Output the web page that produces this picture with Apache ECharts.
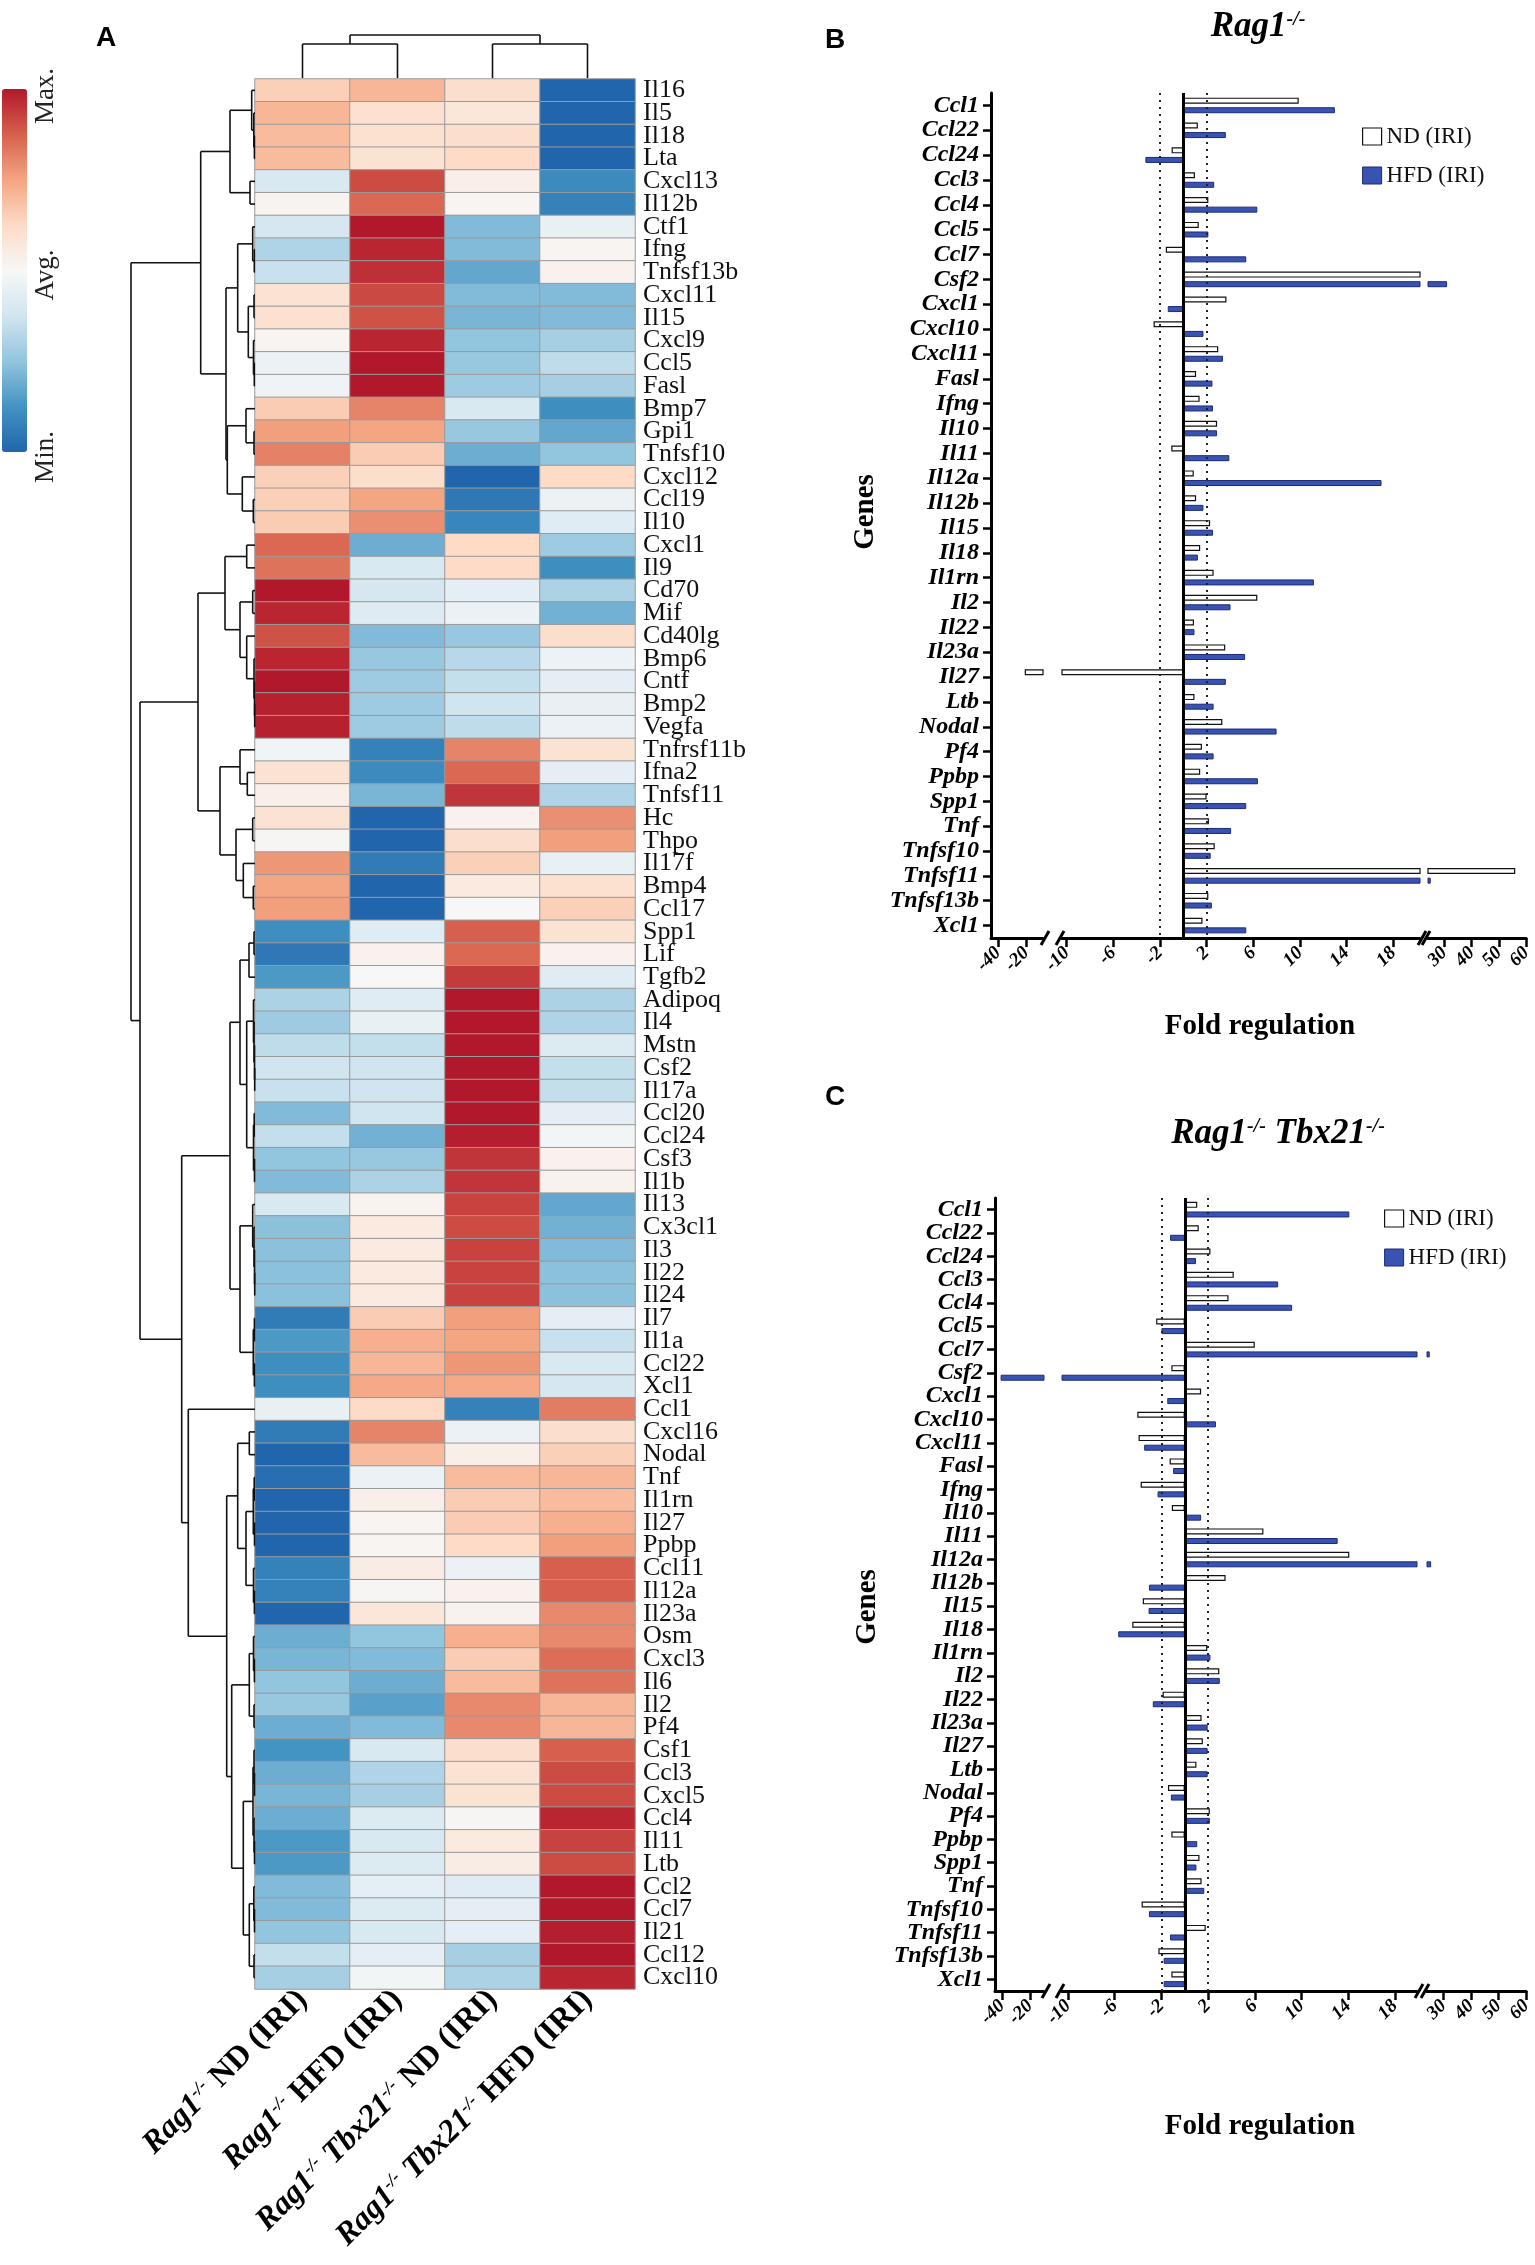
<!DOCTYPE html>
<html>
<head>
<meta charset="utf-8">
<script src="https://cdn.jsdelivr.net/npm/echarts@6/dist/echarts.min.js"></script>
<style>
  html, body { margin: 0; padding: 0; background: #fff; }
  #main { width: 1535px; height: 2265px; }
</style>
</head>
<body>
<div id="main"></div>
<script>
var SERIF = '"Liberation Serif", "Times New Roman", serif';
var SANS = '"Liberation Sans", Arial, sans-serif';

// ---------- panel A : heatmap ----------
var heatGenes = ['Il16', 'Il5', 'Il18', 'Lta', 'Cxcl13', 'Il12b', 'Ctf1', 'Ifng', 'Tnfsf13b', 'Cxcl11',
    'Il15', 'Cxcl9', 'Ccl5', 'Fasl', 'Bmp7', 'Gpi1', 'Tnfsf10', 'Cxcl12', 'Ccl19', 'Il10',
    'Cxcl1', 'Il9', 'Cd70', 'Mif', 'Cd40lg', 'Bmp6', 'Cntf', 'Bmp2', 'Vegfa', 'Tnfrsf11b',
    'Ifna2', 'Tnfsf11', 'Hc', 'Thpo', 'Il17f', 'Bmp4', 'Ccl17', 'Spp1', 'Lif', 'Tgfb2',
    'Adipoq', 'Il4', 'Mstn', 'Csf2', 'Il17a', 'Ccl20', 'Ccl24', 'Csf3', 'Il1b', 'Il13',
    'Cx3cl1', 'Il3', 'Il22', 'Il24', 'Il7', 'Il1a', 'Ccl22', 'Xcl1', 'Ccl1', 'Cxcl16',
    'Nodal', 'Tnf', 'Il1rn', 'Il27', 'Ppbp', 'Ccl11', 'Il12a', 'Il23a', 'Osm', 'Cxcl3',
    'Il6', 'Il2', 'Pf4', 'Csf1', 'Ccl3', 'Cxcl5', 'Ccl4', 'Il11', 'Ltb', 'Ccl2',
    'Ccl7', 'Il21', 'Ccl12', 'Cxcl10'];

var heatColumns = ['Rag1-/- ND (IRI)', 'Rag1-/- HFD (IRI)', 'Rag1-/- Tbx21-/- ND (IRI)', 'Rag1-/- Tbx21-/- HFD (IRI)'];

// relative expression, -1 = min, 0 = avg, 1 = max
var ndRag1 = [0.3, 0.42, 0.4, 0.4, -0.2, 0.04, -0.22, -0.38, -0.28, 0.18,
    0.2, 0.03, -0.08, -0.05, 0.32, 0.52, 0.63, 0.3, 0.3, 0.32,
    0.72, 0.68, 1, 0.95, 0.8, 0.95, 1, 0.97, 0.97, -0.04,
    0.18, 0.08, 0.18, 0.02, 0.55, 0.5, 0.52, -0.78, -0.9, -0.72,
    -0.4, -0.45, -0.32, -0.25, -0.28, -0.55, -0.3, -0.5, -0.55, -0.2,
    -0.52, -0.52, -0.52, -0.52, -0.88, -0.72, -0.78, -0.78, -0.1, -0.88,
    -1, -0.95, -1, -1, -1, -0.85, -0.85, -1, -0.62, -0.58,
    -0.5, -0.48, -0.62, -0.75, -0.62, -0.58, -0.62, -0.72, -0.72, -0.55,
    -0.55, -0.5, -0.3, -0.42];
var hfdRag1 = [0.42, 0.2, 0.2, 0.18, 0.82, 0.72, 1, 0.95, 0.92, 0.83,
    0.8, 0.95, 1, 1, 0.62, 0.5, 0.32, 0.22, 0.5, 0.58,
    -0.62, -0.2, -0.22, -0.16, -0.55, -0.48, -0.45, -0.45, -0.45, -0.85,
    -0.8, -0.58, -1, -1, -0.88, -1, -1, -0.15, 0.05, 0,
    -0.15, -0.1, -0.3, -0.25, -0.25, -0.25, -0.6, -0.48, -0.4, 0.04,
    0.12, 0.12, 0.12, 0.12, 0.32, 0.45, 0.42, 0.48, 0.25, 0.62,
    0.4, -0.08, 0.07, 0.03, 0.03, 0.1, 0.02, 0.15, -0.5, -0.55,
    -0.62, -0.68, -0.55, -0.2, -0.38, -0.42, -0.18, -0.2, -0.18, -0.12,
    -0.18, -0.2, -0.12, -0.03];
var ndTbx21 = [0.22, 0.15, 0.22, 0.25, 0.08, 0.03, -0.55, -0.55, -0.65, -0.55,
    -0.58, -0.5, -0.48, -0.45, -0.2, -0.48, -0.62, -1, -0.9, -0.82,
    0.25, 0.25, -0.12, -0.08, -0.48, -0.35, -0.3, -0.25, -0.32, 0.62,
    0.72, 0.9, 0.05, 0.22, 0.3, 0.12, 0, 0.75, 0.72, 0.88,
    1, 1, 1, 1, 1, 1, 0.98, 0.9, 0.9, 0.85,
    0.82, 0.85, 0.85, 0.85, 0.52, 0.5, 0.55, 0.48, -0.85, -0.08,
    0.08, 0.4, 0.32, 0.32, 0.25, -0.08, 0.05, 0.05, 0.45, 0.32,
    0.4, 0.6, 0.6, 0.22, 0.18, 0.18, 0.02, 0.12, 0.1, -0.15,
    -0.12, -0.12, -0.42, -0.4];
var hfdTbx21 = [-1, -1, -1, -1, -0.8, -0.85, -0.1, 0.03, 0.05, -0.55,
    -0.55, -0.42, -0.32, -0.42, -0.78, -0.65, -0.5, 0.25, -0.08, -0.15,
    -0.45, -0.78, -0.4, -0.6, 0.22, -0.07, -0.12, -0.1, -0.08, 0.18,
    -0.12, -0.38, 0.58, 0.52, -0.1, 0.2, 0.3, 0.18, 0.05, -0.15,
    -0.4, -0.38, -0.18, -0.3, -0.3, -0.12, -0.03, 0.05, 0.05, -0.65,
    -0.6, -0.55, -0.52, -0.52, -0.12, -0.28, -0.2, -0.22, 0.65, 0.22,
    0.3, 0.42, 0.4, 0.45, 0.52, 0.75, 0.75, 0.6, 0.6, 0.7,
    0.68, 0.42, 0.42, 0.75, 0.82, 0.82, 0.95, 0.85, 0.82, 1,
    1, 0.98, 1, 0.95];

// dendrograms: [height, left, right], a number is a leaf index
function n(h, a, b) { return [h, a, b]; }
var rowTree = n(124,
    n(54.3,
        n(25, n(3.3, 0, n(1.2, 1, n(0.6, 2, 3))), n(5, 4, 5)),
        n(29,
            n(17.3, n(2.3, 6, n(0.7, 7, 8)), n(6.7, n(1, 9, 10), n(1.5, 11, n(0.7, 12, 13)))),
            n(27.7, n(9, 14, n(1, 15, 16)), n(12.7, 17, n(1.7, 18, 19))))),
    n(115,
        n(57,
            n(30, n(8.3, 20, 21), n(15, n(2.3, 22, 23), n(8.3, 24, n(1, 25, n(0.5, 26, n(0.3, 27, 28)))))),
            n(35, n(15, 29, n(7.7, 30, 31)), n(19, n(2.3, 32, 33), n(11.7, 34, n(1.7, 35, 36))))),
        n(73.3,
            n(25,
                n(15, n(6, n(1, 37, 38), 39),
                    n(8.3, n(1.5, 40, n(1, 41, n(0.5, 42, n(0.3, 43, 44)))), n(1.5, n(0.8, 45, 46), n(0.5, 47, 48)))),
                n(15, n(2.3, 49, n(1, 50, n(0.5, 51, n(0.3, 52, 53)))), n(1.7, n(0.6, 54, 55), n(0.6, 56, 57)))),
            n(66.7, 58,
                n(28.3,
                    n(17.3, n(5.7, 59, 60), n(9, n(1.7, n(0.8, 61, 62), n(0.5, 63, 64)), n(1.5, 65, n(0.6, 66, 67)))),
                    n(23.3,
                        n(5.7, n(1.5, 68, n(0.6, 69, 70)), n(1, 71, 72)),
                        n(11.7, n(2, n(1, 73, n(0.5, 74, 75)), n(1, 76, n(0.5, 77, 78))),
                            n(5.7, n(1.2, 79, n(0.5, 80, 81)), n(1, 82, 83)))))))));
var colTree = n(43, n(34, 0, 1), n(34, 2, 3));

// ---------- panels B and C : fold regulation ----------
var barGenes = ['Ccl1', 'Ccl22', 'Ccl24', 'Ccl3', 'Ccl4', 'Ccl5', 'Ccl7', 'Csf2', 'Cxcl1', 'Cxcl10',
    'Cxcl11', 'Fasl', 'Ifng', 'Il10', 'Il11', 'Il12a', 'Il12b', 'Il15', 'Il18', 'Il1rn',
    'Il2', 'Il22', 'Il23a', 'Il27', 'Ltb', 'Nodal', 'Pf4', 'Ppbp', 'Spp1', 'Tnf',
    'Tnfsf10', 'Tnfsf11', 'Tnfsf13b', 'Xcl1'];
var rag1ND = [9.9, 1.25, -1.0, 1.0, 2.15, 1.33, -1.5, 22, 3.7, -2.55,
    3.0, 1.1, 1.4, 2.9, -1.03, 0.9, 1.1, 2.3, 1.45, 2.6,
    6.35, 0.92, 3.6, -21, 0.96, 3.35, 1.6, 1.45, 2.0, 2.2,
    2.7, 56, 2.15, 1.65];
var rag1HFD = [13.0, 3.65, -3.25, 2.65, 6.35, 2.15, 5.4, 31, -1.33, 1.73,
    3.4, 2.5, 2.55, 2.9, 3.95, 17.0, 1.73, 2.55, 1.25, 11.2,
    4.05, 0.96, 5.3, 3.65, 2.6, 8.0, 2.6, 6.4, 5.4, 4.1,
    2.35, 25, 2.45, 5.4];
var dkoND = [1.07, 1.2, 2.2, 4.2, 3.75, -2.45, 6.0, -1.15, 1.4, -4.07,
    -3.96, -1.3, -3.78, -1.11, 6.74, 14.1, 3.5, -3.6, -4.5, 1.93,
    2.96, -1.9, 1.44, 1.55, 1.0, -1.44, 2.15, -1.15, 1.26, 1.44,
    -3.7, 1.8, -2.26, -1.15];
var dkoHFD = [14.1, -1.26, 0.96, 8.0, 9.2, -2.0, 25, -41, -1.5, 2.67,
    -3.48, -1.0, -2.33, 1.4, 13.1, 25.5, -3.07, -3.1, -5.7, 2.2,
    3.0, -2.74, 1.96, 1.96, 1.96, -1.19, 2.15, 1.07, 1.0, 1.67,
    -3.07, -1.26, -1.81, -1.81];
var foldTicks = [[-40, -20], [-10, -6, -2, 2, 6, 10, 14, 18], [30, 40, 50, 60]];
var cutoff = 2;

// ---------- layout ----------
var HM = {left: 255, top: 79, width: 380, height: 1910};
var panels = [
    {top: 93, height: 845, segs: [[991, 52, -45, -8], [1062, 358, -10.4, 20.3], [1428, 102, 24, 60]],
        nd: rag1ND, hfd: rag1HFD, legend: [1357, 120], title: '{i|Rag1}{s|-/-}', titleXY: [1258, 27],
        letter: [835, 40], genesXY: [866, 512], foldXY: [1260, 1027]},
    {top: 1198, height: 793, segs: [[995, 49, -45, -10], [1062, 355, -10.52, 19.9], [1427, 103, 24, 60]],
        nd: dkoND, hfd: dkoHFD, legend: [1379, 1202], title: '{i|Rag1}{s|-/-}{i| Tbx21}{s|-/-}', titleXY: [1278, 1134],
        letter: [835, 1097], genesXY: [868, 1607], foldXY: [1260, 2127]}
];

function dendroSegments(tree) {
    var segs = [];
    function walk(node) {
        if (typeof node === 'number') return [0, node];
        var a = walk(node[1]), b = walk(node[2]), h = node[0];
        segs.push([a[0], a[1], h, a[1]]);
        segs.push([b[0], b[1], h, b[1]]);
        segs.push([h, a[1], h, b[1]]);
        return [h, (a[1] + b[1]) / 2];
    }
    walk(tree);
    return segs;
}

function segRenderer(swap) {
    return function (params, api) {
        var a = [api.value(0), api.value(1)], b = [api.value(2), api.value(3)];
        if (swap) { a.reverse(); b.reverse(); }
        var p1 = api.coord(a), p2 = api.coord(b);
        return {
            type: 'line',
            shape: {x1: p1[0], y1: p1[1], x2: p2[0], y2: p2[1]},
            style: {stroke: '#111', lineWidth: 1.6}
        };
    };
}

function fmtCol(v) {
    return v.split(' ').map(function (w) {
        if (w.indexOf('-/-') > 0) return '{i|' + w.replace('-/-', '') + '}{s|-/-}';
        return '{b|' + w + '}';
    }).join('{b| }');
}

var heatData = [];
var heatCols = [ndRag1, hfdRag1, ndTbx21, hfdTbx21];
heatGenes.forEach(function (g, r) {
    heatCols.forEach(function (col, c) {
        heatData.push([c, r, col[r]]);
    });
});

var grids = [HM,
    {left: 120, top: HM.top, width: 135, height: HM.height},
    {left: HM.left, top: 30, width: HM.width, height: 48}];
var xAxes = [
    {gridIndex: 0, type: 'category', data: heatColumns, axisLine: {show: false}, axisTick: {show: false},
        splitLine: {show: false},
        axisLabel: {interval: 0, rotate: 45, margin: 6, formatter: fmtCol,
            rich: {
                i: {fontFamily: SERIF, fontStyle: 'italic', fontWeight: 'bold', fontSize: 32, color: '#000'},
                s: {fontFamily: SERIF, fontStyle: 'italic', fontWeight: 'bold', fontSize: 18, color: '#000', verticalAlign: 'top'},
                b: {fontFamily: SERIF, fontWeight: 'bold', fontSize: 32, color: '#000'}
            }}},
    {gridIndex: 1, type: 'value', min: 0, max: 135, inverse: true, show: false},
    {gridIndex: 2, type: 'value', min: -0.5, max: 3.5, show: false}
];
var yAxes = [
    {gridIndex: 0, type: 'category', data: heatGenes, inverse: true, position: 'right',
        axisLine: {show: false}, axisTick: {show: false}, splitLine: {show: false},
        axisLabel: {interval: 0, fontFamily: SERIF, fontSize: 26, color: '#111', margin: 8}},
    {gridIndex: 1, type: 'value', min: -0.5, max: heatGenes.length - 0.5, inverse: true, show: false},
    {gridIndex: 2, type: 'value', min: 0, max: 48, show: false}
];
var series = [
    {type: 'heatmap', xAxisIndex: 0, yAxisIndex: 0, data: heatData, silent: true,
        itemStyle: {borderColor: '#9a9a9a', borderWidth: 1}, emphasis: {disabled: true}},
    {type: 'custom', xAxisIndex: 1, yAxisIndex: 1, data: dendroSegments(rowTree), silent: true,
        renderItem: segRenderer(false), clip: false},
    {type: 'custom', xAxisIndex: 2, yAxisIndex: 2, data: dendroSegments(colTree), silent: true,
        renderItem: segRenderer(true), clip: false}
];
var legends = [];
var graphics = [
    {type: 'text', x: 106, y: 38, style: {text: 'A', font: 'bold 28px ' + SANS, fill: '#000', align: 'center', verticalAlign: 'middle'}},
    {type: 'text', x: 46, y: 96, rotation: Math.PI / 2, style: {text: 'Max.', font: '27px ' + SERIF, fill: '#222', align: 'center', verticalAlign: 'middle'}},
    {type: 'text', x: 46, y: 275, rotation: Math.PI / 2, style: {text: 'Avg.', font: '27px ' + SERIF, fill: '#222', align: 'center', verticalAlign: 'middle'}},
    {type: 'text', x: 46, y: 457, rotation: Math.PI / 2, style: {text: 'Min.', font: '27px ' + SERIF, fill: '#222', align: 'center', verticalAlign: 'middle'}}
];

var ndStyle = {color: '#fff', borderColor: '#111', borderWidth: 1.2};
var hfdStyle = {color: '#3953b3', borderColor: '#1c2a78', borderWidth: 1};

panels.forEach(function (p, k) {
    var bottom = p.top + p.height;
    p.segs.forEach(function (s, j) {
        var gi = grids.length;
        grids.push({left: s[0], top: p.top, width: s[1], height: p.height});
        xAxes.push({
            gridIndex: gi, type: 'value', min: s[2], max: s[3], splitLine: {show: false},
            axisLine: {show: true, onZero: false, lineStyle: {color: '#000', width: 3}},
            axisTick: {show: true, customValues: foldTicks[j], length: 9, lineStyle: {color: '#000', width: 2.5}},
            axisLabel: {customValues: foldTicks[j], rotate: 45, margin: 12, fontFamily: SERIF,
                hideOverlap: false, showMinLabel: true, showMaxLabel: true,
                fontStyle: 'italic', fontWeight: 'bold', fontSize: 19, color: '#000'}
        });
        yAxes.push({
            gridIndex: gi, type: 'category', data: barGenes, inverse: true, show: j === 0,
            axisLine: {show: true, onZero: false, lineStyle: {color: '#000', width: 3}},
            axisTick: {show: true, interval: 0, alignWithLabel: true, length: 8, lineStyle: {color: '#000', width: 2.5}},
            axisLabel: {interval: 0, margin: 12, fontFamily: SERIF, fontStyle: 'italic', fontWeight: 'bold',
                fontSize: 24, color: '#000'},
            splitLine: {show: false}
        });
        var nd = {type: 'bar', name: 'ND (IRI)', xAxisIndex: gi, yAxisIndex: gi, data: p.nd,
            barWidth: 6, barGap: '60%', itemStyle: ndStyle, silent: true};
        if (j === 1) {
            nd.markLine = {
                silent: true, symbol: ['none', 'none'], label: {show: false}, emphasis: {disabled: true},
                data: [
                    {xAxis: 0, lineStyle: {type: 'solid', width: 3, color: '#000'}},
                    {xAxis: -cutoff, lineStyle: {type: [2, 5], width: 2, color: '#222'}},
                    {xAxis: cutoff, lineStyle: {type: [2, 5], width: 2, color: '#222'}}
                ]
            };
        }
        series.push(nd);
        series.push({type: 'bar', name: 'HFD (IRI)', xAxisIndex: gi, yAxisIndex: gi, data: p.hfd,
            barWidth: 6, barGap: '60%', itemStyle: hfdStyle, silent: true});
    });

    legends.push({
        left: p.legend[0], top: p.legend[1], orient: 'vertical', itemWidth: 19, itemHeight: 17, itemGap: 16,
        selectedMode: false, icon: 'rect',
        textStyle: {fontFamily: SERIF, fontSize: 23, color: '#111'},
        data: [{name: 'ND (IRI)', itemStyle: ndStyle}, {name: 'HFD (IRI)', itemStyle: hfdStyle}]
    });

    // axis break marks
    [p.segs[0][0] + p.segs[0][1] + 2, p.segs[1][0] - 2, p.segs[1][0] + p.segs[1][1] + 2, p.segs[2][0] - 2].forEach(function (x) {
        graphics.push({type: 'line', shape: {x1: x - 4, y1: bottom + 7, x2: x + 4, y2: bottom - 7},
            style: {stroke: '#000', lineWidth: 3}});
    });

    graphics.push({type: 'text', x: p.letter[0], y: p.letter[1],
        style: {text: k === 0 ? 'B' : 'C', font: 'bold 28px ' + SANS, fill: '#000', align: 'center', verticalAlign: 'middle'}});
    graphics.push({type: 'text', x: p.titleXY[0], y: p.titleXY[1],
        style: {text: p.title, align: 'center', verticalAlign: 'middle',
            rich: {
                i: {fontFamily: SERIF, fontStyle: 'italic', fontWeight: 'bold', fontSize: 35, fill: '#000', color: '#000'},
                s: {fontFamily: SERIF, fontStyle: 'italic', fontWeight: 'bold', fontSize: 20, fill: '#000', color: '#000', verticalAlign: 'top'}
            }}});
    graphics.push({type: 'text', x: p.genesXY[0], y: p.genesXY[1], rotation: Math.PI / 2,
        style: {text: 'Genes', font: 'bold 29px ' + SERIF, fill: '#000', align: 'center', verticalAlign: 'middle'}});
    graphics.push({type: 'text', x: p.foldXY[0], y: p.foldXY[1],
        style: {text: 'Fold regulation', font: 'bold 29px ' + SERIF, fill: '#000', align: 'center', verticalAlign: 'middle'}});
});

var chart = echarts.init(document.getElementById('main'));
chart.setOption({
    animation: false,
    backgroundColor: '#fff',
    grid: grids,
    xAxis: xAxes,
    yAxis: yAxes,
    legend: legends,
    visualMap: {
        type: 'continuous', seriesIndex: 0, min: -1, max: 1, left: 2, top: 89, padding: 0,
        itemWidth: 25, itemHeight: 363, calculable: false, hoverLink: false,
        inRange: {color: ['#2166ac', '#4393c3', '#92c5de', '#d1e5f0', '#f7f7f7', '#fddbc7', '#f4a582', '#d6604d', '#b2182b']}
    },
    graphic: graphics,
    series: series
});
</script>
</body>
</html>
